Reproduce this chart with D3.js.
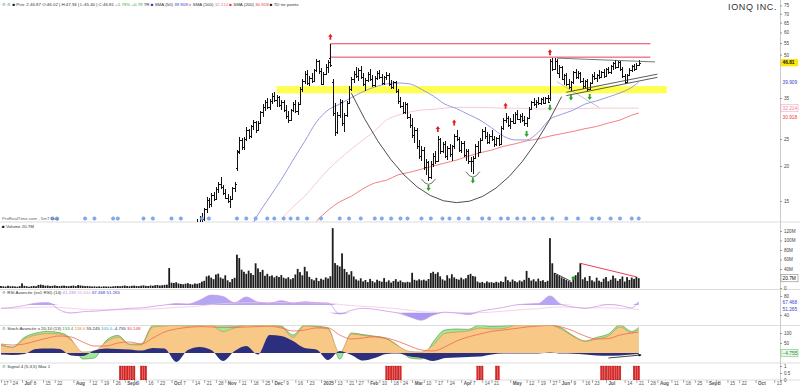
<!DOCTYPE html>
<html>
<head>
<meta charset="utf-8">
<script src="https://cdn.jsdelivr.net/npm/d3@7"></script>
<style>
    body { margin: 0; background: #fff; }
    svg { display: block; font-family: "Liberation Sans", Arial, sans-serif; }
</style>
</head>
<body>
<svg width="800" height="388"></svg>
<script>
// Sessions: every weekday between these two dates, minus US market holidays
const holidays = ["2024-06-19", "2024-07-04", "2024-09-02", "2024-11-28", "2024-12-25", "2025-01-01",
    "2025-01-09", "2025-01-20", "2025-02-17", "2025-04-18", "2025-05-26", "2025-06-19", "2025-07-04", "2025-09-01"]
const axisFrom = "2024-06-17"
const axisTo = "2025-10-14"

// Daily volume in millions, one value per session from axisFrom
const volume = [
    4.2, 3.5, 3.1, 4.8, 3.6, 3.9, 3.2, 2.8, 4.0, 9.8, 4.5, 3.8, 2.6, 3.9, 4.4, 3.7, 6.4, 7.2, 6.0,
    4.8, 5.2, 4.1, 4.6, 5.5, 4.3, 3.9, 4.7, 5.0, 4.2,
    3.8, 4.5, 5.1, 4.0, 6.2, 5.4, 4.6, 3.9, 4.3, 3.7, 3.2, 3.5,
    3.0, 3.4, 2.9, 3.6, 3.1, 3.3, 2.8, 3.5, 3.9, 4.2, 3.6, 4.4,
    5.2, 4.1, 3.8, 4.6, 5.0, 4.3, 3.9, 4.8, 5.6, 4.5, 4.1, 5.3,
    4.7, 5.9, 6.3, 5.1, 5.8, 6.6, 7.0, 42.0,
    11.2, 10.5, 12.1, 9.4, 8.6, 7.9, 9.1, 10.2, 8.3, 7.5, 9.6, 8.8, 10.4, 13.5, 15.2,
    24.5, 26.3, 21.8, 18.6, 28.4, 30.2, 22.1, 19.5, 26.7, 16.2, 12.4, 18.9, 21.5,
    70.2, 63.0, 38.6, 34.1, 29.8, 36.5, 31.2, 27.4, 52.0, 41.3, 33.6, 38.2, 25.7, 29.9,
    24.8, 26.5, 22.3, 25.6, 23.1, 27.2, 21.5, 19.8, 22.6, 18.4, 20.9,
    28.5, 40.2, 33.4, 26.8, 44.6, 35.1, 23.4, 18.6, 16.2, 21.4, 14.8, 19.6, 17.3, 22.5, 20.1, 24.8,
    126.0, 52.4, 48.0, 45.3, 73.0, 40.2, 33.5, 28.1, 35.4, 24.3,
    18.2, 15.6, 20.4, 13.9, 16.8, 12.5, 19.1, 14.6, 11.8, 17.4, 15.0, 13.2, 20.8, 12.9, 16.1, 11.4, 14.7, 18.6, 13.3, 15.8,
    12.4, 11.6, 13.1, 12.0, 32.0, 17.2, 15.8, 18.4, 16.1, 17.6, 15.3, 18.9,
    31.5, 34.2, 29.8, 33.1, 24.6, 18.2, 15.7, 26.8, 20.3, 29.0, 22.4, 19.1, 17.6, 21.8, 18.3, 20.6,
    27.5, 29.8, 25.2, 24.1, 13.6, 11.2, 12.8, 10.4, 13.9, 11.7, 12.3, 10.9, 13.1, 11.5, 14.2, 12.6,
    24.0, 16.4, 13.1, 17.8, 14.5, 12.2, 15.9, 13.7, 17.2, 36.0,
    21.4, 15.6, 18.3, 13.9, 19.7, 14.8, 16.5, 12.7, 15.2, 105.0, 52.0,
    31.5, 28.0, 25.6, 22.3, 19.8, 17.1, 14.6, 12.4, 21.0, 27.0, 33.0, 52.0,
    18.4, 22.6, 14.9, 25.3, 16.2, 13.5, 21.7, 15.4, 12.8, 19.6, 23.1, 14.2, 17.5, 26.0, 20.4,
    15.1, 18.9, 24.2, 13.6, 22.8, 17.0, 21.9, 19.2, 23.5, 20.7
]

// Daily [open, high, low, close], one per session from priceFrom
const priceFrom = "2024-10-16"
const ohlc = [
    [12.2,12.9,11.9,12.6],[12.6,13.3,12.3,13.0],[13.0,13.6,12.6,12.9],[12.9,14.2,12.7,14.0],[14.0,15.5,13.6,15.1],
    [15.1,15.4,14.2,14.6],[14.6,16.0,14.3,15.7],[15.7,16.2,15.0,15.3],[15.3,16.8,15.1,16.5],[16.5,17.6,16.0,17.2],
    [17.2,18.3,16.6,16.9],[16.9,17.1,15.8,16.0],[16.0,16.6,15.2,15.4],[15.4,15.9,14.7,15.0],[15.0,15.6,14.2,15.3],
    [15.3,16.9,15.2,16.7],[16.7,17.5,16.2,17.2],[19.6,22.9,19.2,22.4],[22.6,25.4,22.1,24.7],[24.7,25.2,22.8,23.3],
    [23.3,25.5,22.8,25.0],[25.0,27.6,24.6,26.9],[26.9,27.2,24.9,25.6],[25.6,28.0,25.2,27.7],[27.7,29.3,26.9,28.7],
    [28.7,29.0,26.3,27.0],[27.0,28.9,26.6,28.5],[28.5,31.5,28.2,31.1],[31.1,33.2,30.0,32.6],[32.6,34.3,31.4,33.8],
    [33.8,35.0,31.9,32.4],[32.4,34.6,31.6,34.1],[34.1,36.4,33.2,35.6],[35.6,36.9,33.9,34.5],[34.5,35.8,32.4,35.2],
    [35.2,35.6,32.5,33.0],[33.0,34.3,31.6,33.9],[33.9,34.5,31.2,31.8],[31.8,33.0,29.4,30.1],[30.1,31.4,28.4,29.2],
    [29.2,32.0,28.9,31.6],[31.6,34.0,31.2,33.4],[33.4,34.5,31.0,31.5],[31.5,33.8,30.5,33.2],[33.2,38.2,33.0,37.6],
    [37.6,41.0,36.8,40.2],[40.2,43.6,39.2,42.5],[42.5,44.2,38.8,39.5],[39.5,41.8,38.6,41.2],[41.2,43.0,39.6,40.3],
    [40.3,44.6,40.0,44.0],[44.0,48.2,43.4,47.3],[47.3,47.9,42.8,43.6],[43.6,44.8,38.8,39.4],[39.4,43.4,39.0,42.8],
    [42.8,46.2,42.4,45.3],[45.3,47.8,43.0,47.1],[48.5,54.7,45.0,46.0],[40.0,41.0,30.2,31.0],[31.0,33.5,25.6,26.4],
    [26.4,31.2,26.0,30.5],[30.5,34.6,29.8,33.8],[33.8,34.4,27.9,28.6],[28.6,31.0,26.5,30.4],[30.4,34.2,30.0,33.6],
    [33.6,38.5,33.2,37.8],[37.8,41.6,37.0,40.9],[40.9,43.8,39.5,42.6],[42.6,45.2,41.4,42.0],[42.0,44.8,40.4,44.2],
    [44.2,45.6,41.0,41.6],[41.6,43.0,38.6,39.4],[39.4,41.2,37.0,40.5],[40.5,43.4,40.0,42.7],[42.7,44.6,40.2,41.0],
    [41.0,42.2,38.2,38.8],[38.8,41.8,38.4,41.2],[41.2,43.6,40.6,43.0],[43.0,44.2,40.8,41.5],[41.5,42.6,39.0,39.5],
    [39.5,42.0,39.1,41.6],[41.6,43.2,40.5,42.4],[42.4,42.9,38.7,39.2],[39.2,40.5,37.6,38.2],[38.2,40.4,37.8,39.8],
    [39.8,40.2,36.5,37.0],[37.0,37.6,33.4,34.1],[34.1,35.2,32.2,32.8],[32.8,34.0,30.6,31.2],[31.2,33.8,30.8,33.2],
    [33.2,33.6,29.4,29.9],[29.9,30.6,27.4,28.0],[28.0,29.6,25.2,25.8],[25.8,27.6,24.2,26.9],[26.9,27.4,23.0,23.6],
    [23.6,24.8,21.2,21.8],[21.8,23.6,20.8,22.9],[22.9,23.3,19.4,19.9],[19.9,21.2,18.6,20.6],[20.6,20.9,17.7,18.3],
    [18.3,20.8,18.0,20.3],[20.3,22.2,19.9,21.7],[21.7,22.6,20.4,20.9],[20.9,25.6,20.7,24.9],[24.9,25.2,22.0,22.6],
    [22.6,24.4,22.2,23.9],[23.9,24.6,21.4,21.8],[21.8,23.6,21.1,23.2],[23.2,24.0,21.6,22.1],[22.1,23.8,20.9,23.5],
    [23.5,26.0,23.1,25.6],[25.6,27.0,24.6,25.0],[25.0,25.5,22.4,22.9],[22.9,24.6,22.3,24.1],[24.1,24.5,21.5,21.9],
    [21.9,23.0,20.9,22.6],[22.6,23.0,20.3,20.8],[20.8,21.6,19.0,20.9],[20.9,21.8,18.8,21.4],[21.4,24.0,21.2,23.6],
    [23.6,24.6,21.6,22.4],[22.4,25.2,22.2,24.8],[24.8,27.2,24.5,26.6],[26.6,27.5,25.0,25.6],[25.6,26.4,23.9,24.4],
    [24.4,26.0,24.0,25.6],[25.6,26.8,24.6,24.9],[24.9,25.6,23.4,23.9],[23.9,25.4,23.6,25.1],[25.1,25.8,23.6,24.0],
    [24.0,27.8,23.8,27.3],[27.3,29.8,27.0,29.2],[29.2,31.0,28.4,29.6],[29.6,30.2,27.6,28.1],[28.1,29.6,27.2,29.0],
    [29.0,30.6,28.2,28.6],[28.6,31.2,28.3,30.8],[30.8,31.6,29.1,29.5],[29.5,30.8,28.5,30.2],[30.2,30.9,28.7,29.1],
    [29.1,30.1,27.8,28.4],[28.4,30.0,27.6,29.7],[29.7,32.6,29.4,32.1],[32.1,34.2,31.6,33.8],[33.8,35.0,32.8,33.3],
    [33.3,34.4,32.2,34.0],[34.0,35.2,33.0,33.5],[33.5,35.0,33.1,34.6],[34.6,35.2,33.2,33.7],[33.7,35.4,33.3,35.0],
    [35.0,35.8,33.5,34.0],[35.0,48.2,34.2,47.4],[47.4,48.8,43.6,44.5],[44.5,48.6,44.0,47.6],[47.6,48.1,42.5,43.0],
    [43.0,46.0,41.4,45.2],[45.2,45.6,40.6,41.0],[41.0,42.8,39.0,42.2],[42.2,43.0,38.6,39.2],[39.2,40.8,37.6,38.2],
    [38.2,40.4,37.2,39.8],[39.8,43.8,39.4,43.2],[43.2,44.4,41.0,41.6],[41.6,43.6,41.0,42.9],[42.9,43.4,39.6,40.2],
    [40.2,41.2,37.8,38.5],[38.5,40.6,37.9,40.1],[40.1,40.8,37.2,37.8],[37.8,40.0,37.4,39.6],[39.6,42.6,39.2,42.0],
    [42.0,43.2,40.6,41.2],[41.2,42.8,40.0,42.4],[42.4,44.0,41.0,41.6],[41.6,43.8,41.2,43.2],[43.2,44.4,41.4,42.0],
    [42.0,44.8,41.6,44.3],[44.3,45.2,42.6,43.2],[43.2,46.0,42.8,45.5],[45.5,47.2,44.0,46.6],[46.6,47.8,44.6,45.2],
    [45.2,47.6,44.8,47.0],[47.0,47.4,43.8,44.4],[44.4,45.0,41.2,41.8],[41.8,42.6,39.2,40.0],[40.0,42.8,39.6,42.3],
    [42.3,44.8,42.0,44.1],[44.1,46.0,43.2,45.4],[45.4,46.4,43.8,44.6],[44.6,46.6,44.2,46.0],[46.0,47.9,45.4,46.81]
]

// Indicators read every 5th session from axisFrom (last value = last session)
const step = 5
const rsiMain = [54, 56, 60, 65, 66, 51, 44, 47, 48, 50, 52, 54, 55, 58, 61, 64, 63, 71, 82, 79,
    66, 78, 67, 65, 70, 65, 68, 66, 65, 42, 50, 54, 52, 48, 44, 36, 29, 40, 46, 44,
    41, 48, 52, 56, 61, 63, 64, 80, 62, 57, 54, 58, 62, 60, 55, 67.468]
const rsiSlow = [54, 54, 55, 56, 57, 56, 54, 52, 51, 51, 51, 52, 52, 53, 54, 56, 57, 59, 62, 64,
    65, 66, 66, 66, 66, 66, 66, 65, 65, 62, 60, 58, 57, 55, 53, 50, 47, 46, 45, 45,
    44, 45, 46, 48, 50, 52, 53, 56, 57, 56, 55, 55, 55, 54, 53, 51.265]
const stochMain = [38, 28, 70, 90, 97, 95, 65, 5, 10, 55, 80, 42, 40, 130, 135, 138, 135, 138, 138, 107,
    125, 138, 138, 138, 130, 78, 135, 130, 120, 0, 95, 88, 80, 70, 35, 8, 5, 40, 98, 105,
    110, 125, 120, 122, 138, 140, 140, 140, 118, 82, 58, 70, 85, 130, 100, 118]
const stochFast = [42, 30, 78, 100, 108, 102, 70, -30, -25, 62, 88, 45, 45, 138, 140, 140, 140, 140, 140, 140,
    135, 140, 140, 140, 135, 90, 140, 135, 125, -30, 100, 92, 84, 72, 36, -25, -30, 55, 115, 120,
    118, 140, 132, 135, 140, 140, 140, 140, 125, 86, 60, 78, 95, 140, 108, 128]
const stochSignal = [45, 40, 45, 60, 75, 85, 80, 55, 35, 35, 50, 55, 45, 75, 105, 120, 128, 132, 130, 128,
    128, 130, 132, 134, 125, 110, 115, 125, 125, 90, 70, 75, 82, 75, 58, 35, 15, 10, 30, 60,
    80, 95, 108, 115, 122, 130, 135, 138, 130, 110, 85, 70, 72, 90, 100, 105]
const stochHist = [-8, -10, -5, 20, 22, 20, -12, -15, 12, 22, 20, 18, 12, 25, 22, -45, 15, 30, 15, -40,
    10, 35, -8, 90, 85, 60, 25, 18, -35, 10, -10, -38, -25, -5, -3, -18, -25, -40, -25, -22,
    -20, -18, -8, -3, -3, -2, -2, 3, -3, -4, -8, -12, -14, -12, -8, -4.755]

// Moving averages, same 5-session sampling, from their first visible session
const sma50From = "2024-11-14"
const sma50 = [11.3, 13.4, 15.5, 17.9, 21.0, 24.5, 28.7, 31.7, 33.3, 35.1, 36.9, 38.3, 39.3, 39.6, 39.3, 37.6, 35.6, 33.3,
    32.1, 30.6, 29.2, 27.4, 25.6, 24.8, 24.8, 26.4, 29.4, 30.6, 31.7, 33.3, 34.2, 35.3, 36.5, 38.2, 39.909]
const sma100From = "2024-12-06"
const sma100 = [12.9, 14.3, 15.6, 17.4, 19.4, 21.2, 23.0, 24.8, 26.7, 29.2, 30.4, 31.2, 31.7, 31.9, 32.2, 32.4,
    32.4, 32.4, 32.3, 32.2, 32.2, 32.1, 32.0, 32.0, 32.0, 32.1, 32.1, 32.2, 32.2, 32.2, 32.2, 32.214]
const sma200From = "2024-12-30"
const sma200 = [12.7, 13.9, 14.9, 15.6, 16.6, 17.4, 17.8, 18.6, 19.0, 19.5, 20.0, 20.5, 21.0, 21.7, 22.3,
    22.8, 23.5, 24.0, 24.6, 25.0, 25.6, 26.1, 26.6, 27.2, 27.7, 28.5, 29.2, 30.4, 30.918]

// Signal histogram: runs of sessions where the signal is on
const signalRuns = [["2024-08-29", "2024-09-09"], ["2024-09-12", "2024-09-16"], ["2025-02-13", "2025-02-24"],
    ["2025-04-10", "2025-04-14"], ["2025-04-23", "2025-04-24"], ["2025-06-27", "2025-07-10"], ["2025-07-18", "2025-07-22"]]

const newsDays = ["2024-07-19", "2024-07-23", "2024-08-08", "2024-08-14", "2024-08-26", "2024-08-28", "2024-09-13",
    "2024-09-19", "2024-10-01", "2024-10-07", "2024-10-18", "2024-10-23", "2024-11-08", "2024-11-14", "2024-11-20",
    "2024-11-27", "2024-12-03", "2024-12-09", "2024-12-12", "2024-12-17", "2024-12-23", "2025-01-02", "2025-01-15",
    "2025-01-22", "2025-01-29", "2025-02-06", "2025-02-11", "2025-02-18", "2025-02-24", "2025-02-27", "2025-03-07",
    "2025-03-13", "2025-03-20", "2025-03-25", "2025-03-31", "2025-04-04", "2025-04-14", "2025-04-17", "2025-04-25",
    "2025-04-30", "2025-05-06", "2025-05-09", "2025-05-15", "2025-05-21", "2025-05-28", "2025-06-05", "2025-06-12",
    "2025-06-23", "2025-06-26", "2025-07-03", "2025-07-10", "2025-07-17", "2025-07-22"]

// Drawn annotations, all in [date, price]
const swingHighs = [["2025-01-08", 54.7], ["2025-03-18", 25.6], ["2025-03-27", 27.0], ["2025-04-29", 31.0], ["2025-05-27", 48.2]]
const swingLows = [["2025-03-12", 17.7], ["2025-04-08", 18.8], ["2025-05-12", 27.6], ["2025-05-27", 34.2], ["2025-06-09", 37.2], ["2025-06-20", 37.4]]
const doubleBottom = [["2025-03-12", 17.7], ["2025-04-08", 18.8]]
const cup = [["2025-01-23", 36.4], ["2025-03-28", 14.8], ["2025-06-03", 35.4]]
const supportZone = { from: "2024-12-04", to: "2025-08-07", low: 36.4, high: 38.6 }
const resistances = [{ from: "2025-01-08", to: "2025-07-29", price: 54.7 }, { from: "2025-01-08", to: "2025-07-29", price: 49.0 }]
const flagTop = [["2025-05-30", 48.6], ["2025-07-31", 47.1]]
const flagChannel = [[["2025-06-05", 36.7], ["2025-08-01", 42.6]], [["2025-06-05", 35.7], ["2025-08-01", 41.5]]]
const pullbackLine = [["2025-05-30", 40.0], ["2025-06-26", 32.4]]
const volDown1 = [["2025-05-29", 31.5], ["2025-06-09", 14.0]]
const volDown2 = [["2025-06-13", 52.0], ["2025-07-21", 23.5]]
const volDot = ["2025-06-10", 21.0]
const histArrow = [["2025-07-02", -25], ["2025-07-23", -10]]

// ---------------------------------------------------------------------------
const fmtDay = d3.utcFormat("%Y-%m-%d")
const days = []
for (let d = new Date(axisFrom + "T00:00:00Z"); fmtDay(d) <= axisTo; d = d3.utcDay.offset(d, 1)) {
    const wd = d.getUTCDay()
    if (wd === 0 || wd === 6 || holidays.includes(fmtDay(d))) continue
    days.push(fmtDay(d))
}
const dayIndex = new Map(days.map((d, i) => [d, i]))
const priceStart = dayIndex.get(priceFrom)
const lastSession = priceStart + ohlc.length - 1
const sampled = (values, from) => {
    const start = dayIndex.get(from)
    return values.map((v, j) => [days[Math.min(start + j * step, lastSession)], v])
}

const svg = d3.select("svg")
const plotRight = 779
const axisX = 780
const x = d3.scalePoint().domain(days).range([1, 1 + (days.length - 1) * 2.336])
const yPrice = d3.scaleLog().domain([12.62, 78.4]).range([222, 0])
const yVol = d3.scaleLinear().domain([0, 120]).range([288, 231])
const yRsi = d3.scaleLinear().domain([40, 80]).range([315, 296])
const ySto = d3.scaleLinear().domain([0, 100]).range([353, 333])
const ySig = d3.scaleLinear().domain([0, 1]).range([380, 366])
const px = d => Math.round(x(d)) + 0.5

const defs = svg.append("defs")
defs.append("marker").attr("id", "arrow").attr("viewBox", "0 0 6 6").attr("refX", 5).attr("refY", 3)
    .attr("markerWidth", 4).attr("markerHeight", 4).attr("orient", "auto")
    .append("path").attr("d", "M0,0L6,3L0,6Z").attr("fill", "#111")

function panel(id, y0, y1) {
    defs.append("clipPath").attr("id", id).append("rect")
        .attr("x", 0).attr("y", y0).attr("width", plotRight).attr("height", y1 - y0)
    return svg.append("g").attr("clip-path", `url(#${id})`)
}

// panel separators and right axis line
;[222, 289.5, 325.5, 363, 380].forEach(y => {
    svg.append("line").attr("x1", 0).attr("x2", 800).attr("y1", y).attr("y2", y).attr("stroke", "#d4d4d4").attr("stroke-width", 0.8)
})
svg.append("line").attr("x1", axisX + 0.5).attr("x2", axisX + 0.5).attr("y1", 0).attr("y2", 380).attr("stroke", "#bdbdbd").attr("stroke-width", 0.8)

// ---------------- main price panel
const gMain = panel("clip-main", 0, 222)
const lineP = d3.line().x(d => x(d[0])).y(d => yPrice(d[1]))

gMain.append("rect")
    .attr("x", x(supportZone.from)).attr("width", x(supportZone.to) - x(supportZone.from))
    .attr("y", yPrice(supportZone.high)).attr("height", yPrice(supportZone.low) - yPrice(supportZone.high))
    .attr("fill", "#ffff3c").attr("opacity", 0.9)

const maLine = d3.line().x(d => x(d[0])).y(d => yPrice(d[1])).curve(d3.curveMonotoneX)
gMain.append("path").datum(sampled(sma100, sma100From)).attr("d", maLine)
    .attr("fill", "none").attr("stroke", "#f6c3cf").attr("stroke-width", 0.9)
gMain.append("path").datum(sampled(sma200, sma200From)).attr("d", maLine)
    .attr("fill", "none").attr("stroke", "#f0736f").attr("stroke-width", 0.9)
gMain.append("path").datum(sampled(sma50, sma50From)).attr("d", maLine)
    .attr("fill", "none").attr("stroke", "#8a8ee0").attr("stroke-width", 0.9)

// cup drawn as a parabola through the two rims and the bottom
{
    const [a, b, c] = cup.map(p => [x(p[0]), yPrice(p[1])])
    const path = d3.path()
    path.moveTo(a[0], a[1])
    path.quadraticCurveTo(2 * b[0] - (a[0] + c[0]) / 2, 2 * b[1] - (a[1] + c[1]) / 2, c[0], c[1])
    gMain.append("path").attr("d", path.toString()).attr("fill", "none").attr("stroke", "#222").attr("stroke-width", 0.8)
}

resistances.forEach(r => {
    gMain.append("path").attr("d", lineP([[r.from, r.price], [r.to, r.price]]))
        .attr("stroke", "#e8284a").attr("stroke-width", 0.9).attr("fill", "none")
})
gMain.append("path").attr("d", lineP([[resistances[0].from, resistances[0].price], [resistances[1].from, resistances[1].price]]))
    .attr("stroke", "#e8284a").attr("stroke-width", 0.9)

gMain.append("path").attr("d", lineP(pullbackLine)).attr("stroke", "#9a9a9a").attr("stroke-width", 0.6).attr("fill", "none")

// OHLC bars
gMain.append("g").selectAll("path")
    .data(ohlc.map((b, i) => ({ day: days[priceStart + i], o: b[0], h: b[1], l: b[2], c: b[3] })))
    .join("path")
    .attr("d", d => {
        const xx = px(d.day)
        return `M${xx},${yPrice(d.h)}V${yPrice(d.l)}M${xx - 1.5},${Math.round(yPrice(d.o)) + 0.5}H${xx}` +
            `M${xx},${Math.round(yPrice(d.c)) + 0.5}H${xx + 1.5}`
    })
    .attr("stroke", "#111").attr("stroke-width", 1).attr("fill", "none").attr("shape-rendering", "crispEdges")

gMain.append("path").attr("d", lineP(flagTop)).attr("stroke", "#555").attr("stroke-width", 0.8).attr("fill", "none")
flagChannel.forEach(seg => {
    gMain.append("path").attr("d", lineP(seg)).attr("stroke", "#333").attr("stroke-width", 0.8).attr("fill", "none")
})

doubleBottom.forEach(p => {
    const xx = x(p[0]), yy = yPrice(p[1])
    gMain.append("path").attr("d", `M${xx - 7},${yy - 2}Q${xx},${yy + 9} ${xx + 7},${yy - 2}`)
        .attr("fill", "none").attr("stroke", "#333").attr("stroke-width", 0.7)
})

gMain.append("g").selectAll("path").data(swingHighs).join("path")
    .attr("transform", d => `translate(${x(d[0])},${yPrice(d[1]) - 7})`)
    .attr("d", "M0,-3L2.2,0H0.9V3H-0.9V0H-2.2Z").attr("fill", "#e0201c")
gMain.append("g").selectAll("path").data(swingLows).join("path")
    .attr("transform", d => `translate(${x(d[0])},${yPrice(d[1]) + 7})`)
    .attr("d", "M0,3L2.2,0H0.9V-3H-0.9V0H-2.2Z").attr("fill", "#2aa52a")

gMain.append("g").selectAll("circle").data(newsDays).join("circle")
    .attr("cx", d => x(d)).attr("cy", 218.5).attr("r", 1.7)
    .attr("fill", "#86aef0").attr("stroke", "#4f82d6").attr("stroke-width", 0.4)

// ---------------- volume panel
const gVol = panel("clip-vol", 222, 289.5)
gVol.append("g").selectAll("rect").data(volume).join("rect")
    .attr("x", (v, i) => x(days[i]) - 0.9).attr("width", 1.8)
    .attr("y", v => yVol(v)).attr("height", v => yVol(0) - yVol(v))
    .attr("fill", "#1c1c1c")
const lineV = d3.line().x(d => x(d[0])).y(d => yVol(d[1]))
gVol.append("path").attr("d", lineV(volDown1)).attr("stroke", "#222").attr("stroke-width", 0.8).attr("fill", "none")
gVol.append("path").attr("d", lineV(volDown2)).attr("stroke", "#e8284a").attr("stroke-width", 0.9).attr("fill", "none")
gVol.append("circle").attr("cx", x(volDot[0])).attr("cy", yVol(volDot[1])).attr("r", 1.8).attr("fill", "#2aa52a")

// ---------------- RSI panel
const gRsi = panel("clip-rsi", 289.5, 325.5)
const rsiData = sampled(rsiMain, axisFrom)
const rsiHi = 61, rsiLo = 45
gRsi.append("path").datum(rsiData)
    .attr("d", d3.area().x(d => x(d[0])).y0(yRsi(rsiHi)).y1(d => yRsi(Math.max(d[1], rsiHi))).curve(d3.curveMonotoneX))
    .attr("fill", "#b3a6f2")
gRsi.append("path").datum(rsiData)
    .attr("d", d3.area().x(d => x(d[0])).y0(yRsi(rsiLo)).y1(d => yRsi(Math.min(d[1], rsiLo))).curve(d3.curveMonotoneX))
    .attr("fill", "#a79af0")
gRsi.append("path").datum(sampled(rsiSlow, axisFrom))
    .attr("d", d3.line().x(d => x(d[0])).y(d => yRsi(d[1])).curve(d3.curveMonotoneX))
    .attr("fill", "none").attr("stroke", "#f3c5e4").attr("stroke-width", 0.8)
gRsi.append("path").datum(rsiData)
    .attr("d", d3.line().x(d => x(d[0])).y(d => yRsi(d[1])).curve(d3.curveMonotoneX))
    .attr("fill", "none").attr("stroke", "#cf9be6").attr("stroke-width", 0.8)

// ---------------- stochastic momentum panel
const gSto = panel("clip-sto", 325.5, 363)
const areaS = d3.area().x(d => x(d[0])).y0(ySto(0)).y1(d => ySto(d[1])).curve(d3.curveMonotoneX)
const lineS = d3.line().x(d => x(d[0])).y(d => ySto(d[1])).curve(d3.curveMonotoneX)
const fast = sampled(stochFast, axisFrom)
const main = sampled(stochMain, axisFrom)
gSto.append("path").datum(fast).attr("d", areaS).attr("fill", "#9fe89a")
gSto.append("path").datum(fast).attr("d", lineS).attr("fill", "none").attr("stroke", "#4d8f3a").attr("stroke-width", 0.6)
gSto.append("path").datum(main).attr("d", areaS).attr("fill", "#f8c887")
gSto.append("path").datum(main).attr("d", lineS).attr("fill", "none").attr("stroke", "#c98a3c").attr("stroke-width", 0.6)
gSto.append("path").datum(sampled(stochHist, axisFrom)).attr("d", areaS).attr("fill", "#2b2f7e")
gSto.append("path").datum(sampled(stochSignal, axisFrom)).attr("d", lineS)
    .attr("fill", "none").attr("stroke", "#f2674f").attr("stroke-width", 0.8)
svg.append("path").attr("d", d3.line().x(d => x(d[0])).y(d => ySto(d[1]))(histArrow))
    .attr("stroke", "#111").attr("stroke-width", 0.8).attr("marker-end", "url(#arrow)")

// ---------------- signal panel
const gSig = panel("clip-sig", 363, 380)
const onDays = signalRuns.flatMap(([a, b]) => days.slice(dayIndex.get(a), dayIndex.get(b) + 1))
gSig.append("g").selectAll("rect").data(onDays).join("rect")
    .attr("x", d => x(d) - 0.85).attr("width", 1.7)
    .attr("y", ySig(1)).attr("height", ySig(0) - ySig(1))
    .attr("fill", "#e42323").attr("stroke", "#a01010").attr("stroke-width", 0.3)

// ---------------- right axes and last-value labels
const f3 = d3.format(".3f")
const lastBar = ohlc[ohlc.length - 1]
const priceLabels = [
    { y: yPrice(sma50[sma50.length - 1]), text: f3(sma50[sma50.length - 1]), color: "#3a3ad0" },
    { y: yPrice(sma100[sma100.length - 1]), text: f3(sma100[sma100.length - 1]), stroke: "#f3a9b9", color: "#e77c95" },
    { y: yPrice(sma200[sma200.length - 1]) + 4, text: f3(sma200[sma200.length - 1]), color: "#e53935" },
    { y: yPrice(lastBar[3]), text: d3.format(".2f")(lastBar[3]), fill: "#ffe600", color: "#111", bold: true }
]
// a tick label that sits under a value label is hidden, as the platform does
const free = v => !priceLabels.some(l => Math.abs(yPrice(v) - l.y) < 6.5)

function rightAxis(scale, values, format) {
    const g = svg.append("g").attr("transform", `translate(${axisX},0)`)
        .call(d3.axisRight(scale).tickValues(values).tickFormat(format).tickSize(2).tickPadding(2))
    g.select(".domain").remove()
    g.selectAll("line").attr("stroke", "#999")
    g.selectAll("text").attr("font-size", 4.6).attr("fill", "#444").attr("font-family", "Liberation Sans, Arial")
    return g
}
rightAxis(yPrice, d3.range(15, 80, 5).filter(free), d3.format("d"))
rightAxis(yVol, [0, 40, 60, 80, 100, 120], v => v ? v + "M" : "0")
rightAxis(yRsi, [40, 80], d3.format("d"))
rightAxis(ySto, [50, 100], d3.format("d"))
rightAxis(ySig, [0, 0.5, 1], d3.format("~g"))

function valueLabel(l) {
    const g = svg.append("g").attr("transform", `translate(${axisX + 1},${l.y})`)
    g.append("rect").attr("x", 0).attr("y", -3.6).attr("width", 17).attr("height", 7.2)
        .attr("fill", l.fill || "#fff").attr("stroke", l.stroke || "none").attr("stroke-width", 0.6)
    g.append("text").attr("x", 1.5).attr("y", 1.7).attr("font-size", 4.8).attr("fill", l.color)
        .attr("font-weight", l.bold ? "bold" : null).text(l.text)
}
priceLabels.forEach(valueLabel)
valueLabel({ y: yVol(volume[volume.length - 1]), text: volume[volume.length - 1] + "M", stroke: "#888", color: "#111" })
valueLabel({ y: yRsi(rsiMain[rsiMain.length - 1]), text: f3(rsiMain[rsiMain.length - 1]), color: "#3a3ad0" })
valueLabel({ y: yRsi(rsiSlow[rsiSlow.length - 1]), text: f3(rsiSlow[rsiSlow.length - 1]), color: "#3a3ad0" })
valueLabel({ y: ySto(0), text: f3(stochHist[stochHist.length - 1]), fill: "#e6f7e6", stroke: "#7cc77c", color: "#2b8a2b" })

// ---------------- date axis
const monthNames = ["2025", "Feb", "Mar", "Apr", "May", "Jun", "Jul", "Aug", "Sept", "Oct", "Nov", "Dec"]
const monthTicks = days.filter((d, i) => i > 0 && d.slice(5, 7) !== days[i - 1].slice(5, 7))
const monthIdx = monthTicks.map(d => dayIndex.get(d))
const weekTicks = days.filter((d, i) => {
    const wd = new Date(d + "T00:00:00Z").getUTCDay()
    const newWeek = i === 0 || wd < new Date(days[i - 1] + "T00:00:00Z").getUTCDay()
    return newWeek && !monthIdx.some(m => Math.abs(m - i) <= 3)
})
const xAxis = svg.append("g").attr("transform", "translate(0,380)")
    .call(d3.axisBottom(x).tickValues(monthTicks.concat(weekTicks)).tickSize(3)
        .tickFormat(d => monthTicks.includes(d) ? monthNames[+d.slice(5, 7) - 1] : String(+d.slice(8))))
xAxis.select(".domain").remove()
xAxis.selectAll("line").attr("stroke", "#aaa")
xAxis.selectAll("text").attr("x", 2).attr("y", 1.6).attr("dy", "0.71em").attr("text-anchor", "start")
    .attr("font-size", 4.6).attr("fill", "#555").attr("font-family", "Liberation Sans, Arial")
    .attr("font-weight", d => monthTicks.includes(d) ? "bold" : null)

// ---------------- legends and title
function legend(y, parts) {
    const t = svg.append("text").attr("x", 2).attr("y", y).attr("font-size", 4.4).attr("fill", "#333")
    parts.forEach(([s, c]) => t.append("tspan").attr("fill", c || "#333").text(s))
}
legend(5.5, [["⚙ ", "#4aa39a"], ["⚙ ", "#4aa39a"], ["■ ", "#111"], ["Prix: 2.46.87 O:46.02 | H:47.94 | L:45.40 | C:46.81 "],
    ["+1.73% +0.79 ", "#2aa52a"], ["TR  "], ["■ ", "#2a2ad0"], ["SMA (50)  "], ["39.909  ", "#3a3ad0"],
    ["■ ", "#f3a9b9"], ["SMA (100)  "], ["32.214  ", "#e77c95"], ["■ ", "#e53935"], ["SMA (200)  "], ["30.918  ", "#e53935"],
    ["■ ", "#111"], ["TD ter points"]])
legend(220, [["ProRealTime.com - 5mT Day", "#666"]])
legend(227.5, [["■ ", "#111"], ["Volume 20.7M"]])
legend(294, [["⚙ ", "#4aa39a"], ["RSI Avancée (ex1 RSI) (14)  "], ["41.235  ", "#b07cd8"], ["55.944  ", "#e7a3cf"], ["67.468  51.265", "#3a3ad0"]])
legend(329.5, [["⚙ ", "#4aa39a"], ["Stoch Avancée x 20,10 (13)  "], ["133.4  ", "#2aa52a"], ["118.0  ", "#d9882e"], ["55.245  "],
    ["105.0  ", "#28a0c8"], ["-4.755  ", "#2b2f7e"], ["30.148", "#e53935"]])
legend(367.5, [["⚙ ", "#4aa39a"], ["Signal 4 (5,3,5) Max 1"]])

svg.append("text").attr("x", 777).attr("y", 9.5).attr("text-anchor", "end")
    .attr("font-size", 9).attr("letter-spacing", 0.6).attr("fill", "#333").text("IONQ INC.")
</script>
</body>
</html>
